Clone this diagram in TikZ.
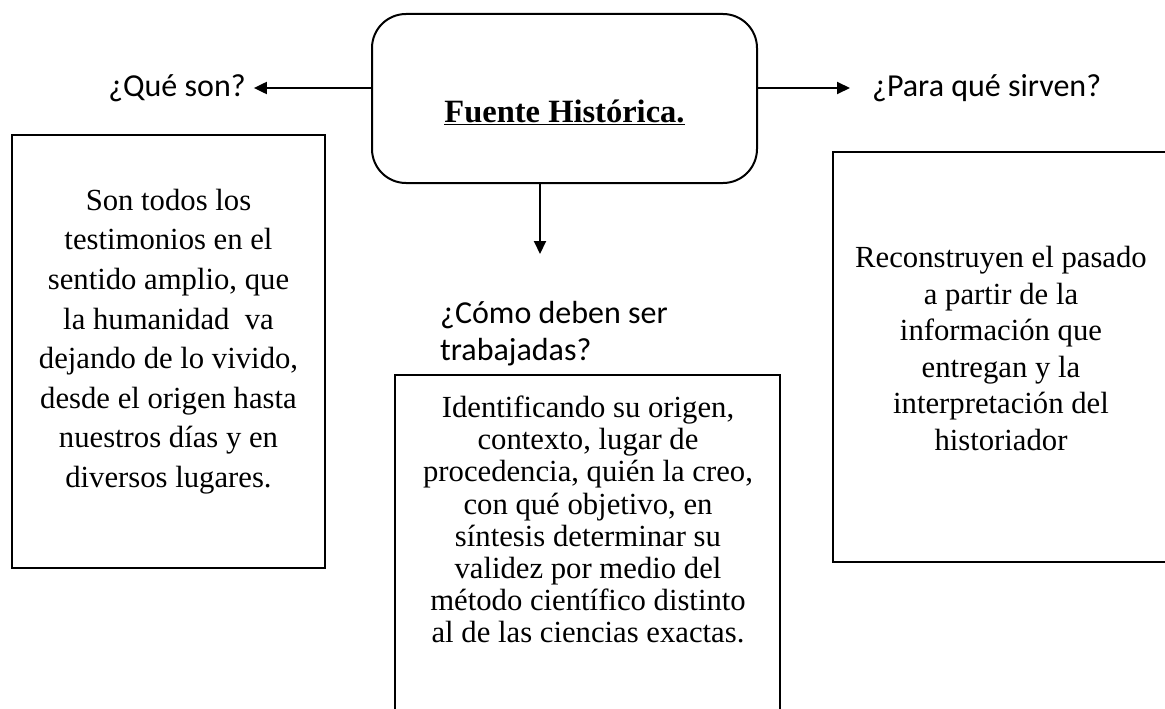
\documentclass[tikz,border=0pt]{standalone}
\usepackage{fontspec}
\setmainfont{Liberation Serif}
\newfontfamily\lblfont{Carlito}
\usetikzlibrary{arrows.meta}
\begin{document}
\begin{tikzpicture}[x=1pt,y=-1pt,
  frame/.style={draw=black,line width=2pt,fill=white,inner sep=0pt},
  bodytext/.style={align=center,inner sep=0pt},
  lbl/.style={font={\lblfont\fontsize{32}{37}\selectfont},inner sep=0pt},
  arr/.style={line width=2pt,-{Triangle[length=13pt,width=12pt]}}]
\useasboundingbox (0,0) rectangle (1165,709);
% central box
\node[frame,rounded corners=34pt,minimum width=385pt,minimum height=169pt] (box) at (564.5,98.5) {};
\node[inner sep=0pt,anchor=base,font={\bfseries\fontsize{32.5}{38}\selectfont}] (title) at (564.5,122) {\underline{Fuente Histórica.}};
% labels
\node[lbl,inner xsep=8pt] (qs) at (177,88) {¿Qué son?};
\node[lbl,anchor=west,inner xsep=22pt] (ps) at (850,88) {¿Para qué sirven?};
\node[lbl,align=left,anchor=base west] (cb) at (440,360) {¿Cómo deben ser\\trabajadas?};
% arrows
\draw[arr] (box.west |- qs) -- (qs.east);
\draw[arr] (box.east |- ps) -- (ps.west);
\draw[arr] ([xshift=-24.5pt]box.south) -- ++(0,70);
% boxes
\node[frame,minimum width=313pt,minimum height=433pt] (lbox) at (168.5,351.5) {};
\node[bodytext,font={\fontsize{30.7}{39.6}\selectfont}] (ltext) at (168.5,341.5) {Son todos los\\testimonios en el\\sentido amplio, que\\la humanidad\ \ va\\dejando de lo vivido,\\desde el origen hasta\\nuestros días y en\\diversos lugares.};
\node[frame,minimum width=340pt,minimum height=410pt] (rbox) at (1003,357) {};
\node[bodytext,font={\fontsize{30.7}{36.6}\selectfont}] (rtext) at (1001,348.5) {Reconstruyen el pasado\\a partir de la\\información que\\entregan y la\\interpretación del\\historiador};
\node[frame,minimum width=385pt,minimum height=360pt] (bbox) at (587.5,555) {};
\node[bodytext,font={\fontsize{30.7}{32.1}\selectfont}] (btext) at (588,519.5) {Identificando su origen,\\contexto, lugar de\\procedencia, quién la creo,\\con qué objetivo, en\\síntesis determinar su\\validez por medio del\\método científico distinto\\al de las ciencias exactas.};
\end{tikzpicture}
\end{document}
